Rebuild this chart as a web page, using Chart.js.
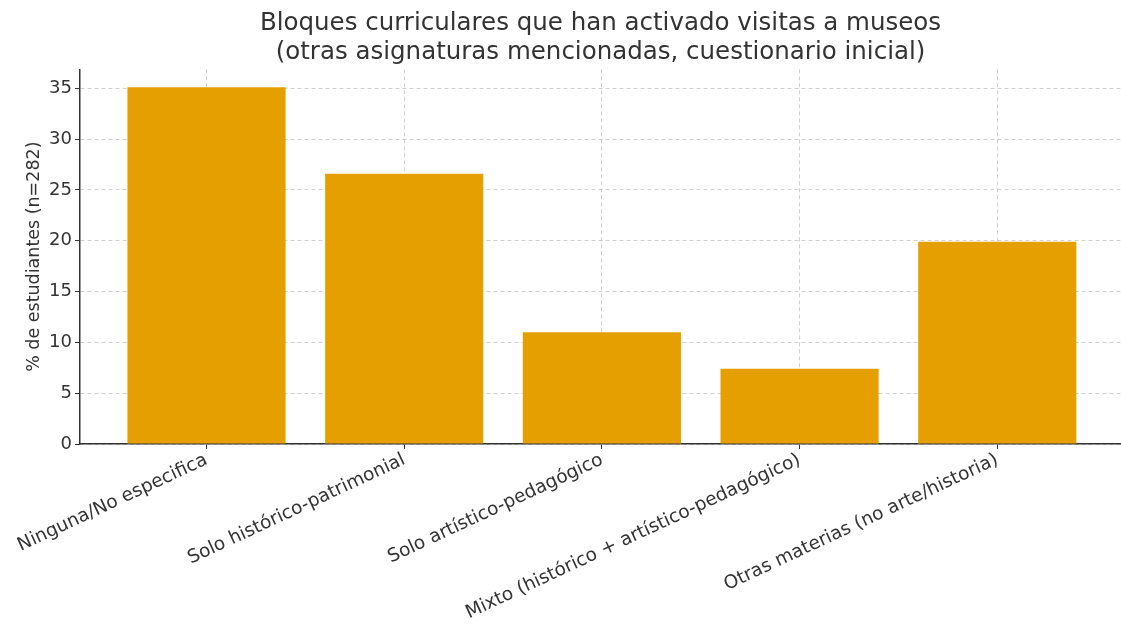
<!DOCTYPE html>
<html><head><meta charset="utf-8">
<script src="https://cdn.jsdelivr.net/npm/chart.js@4.4.0/dist/chart.umd.min.js"></script>
<style>html,body{margin:0;padding:0;background:#fff;overflow:hidden}#wrap{width:1121px;height:626px}</style>
</head><body><div id="wrap"><canvas id="c" width="1121" height="626"></canvas></div>
<script>
const categories = ["Ninguna/No especifica","Solo histórico-patrimonial","Solo artístico-pedagógico","Mixto (histórico + artístico-pedagógico)","Otras materias (no arte/historia)"];
const values = [35.1, 26.6, 11.0, 7.4, 19.9];
const yTicks = [0,5,10,15,20,25,30,35];
const titleLines = ["Bloques curriculares que han activado visitas a museos","(otras asignaturas mencionadas, cuestionario inicial)"];
const yTitle = "% de estudiantes (n=282)";

const FONT = "'DejaVu Sans', sans-serif";
const TXT = '#333333';
new Chart(document.getElementById('c'), {
  type: 'bar',
  data: { datasets: [{ data: values.map((v,i)=>({x:i,y:v})), backgroundColor:'#E69F00', barPercentage:0.8, categoryPercentage:1.0 }] },
  options: {
    responsive:false, animation:false,
    layout:{ padding:{ left:24, right:0, top:0, bottom:0 } },
    plugins:{ legend:{display:false}, tooltip:{enabled:false},
      title:{ display:true, fullSize:false, text:titleLines, color:TXT, font:{family:FONT,size:24.5,weight:'normal',lineHeight:1.15}, padding:{top:10,bottom:3} } },
    scales:{
      x:{ type:'linear', min:-0.64, max:4.626, z:1, offset:false,
        afterBuildTicks:(s)=>{ s.ticks = categories.map((_,i)=>({value:i})); },
        afterFit:(s)=>{ s.height = 182; },
        ticks:{ autoSkip:false, maxRotation:25, minRotation:25, color:TXT, font:{family:FONT,size:18.5}, padding:0,
          callback:(v)=>categories[v] },
        grid:{ offset:false, color:'rgba(176,176,176,0.6)', lineWidth:1, tickLength:5, tickColor:TXT },
        border:{ display:true, color:TXT, width:1.5, dash:[4,3] }
      },
      y:{ min:0, max:36.86,
        afterBuildTicks:(s)=>{ s.ticks = yTicks.map(v=>({value:v})); },
        afterFit:(s)=>{ s.width = 56; },
        ticks:{ color:TXT, font:{family:FONT,size:18}, padding:3 },
        grid:{ color:'rgba(176,176,176,0.6)', lineWidth:1, tickLength:5, tickColor:TXT },
        border:{ display:true, color:TXT, width:1.5, dash:[4,3] },
        title:{ display:true, text:yTitle, color:TXT, font:{family:FONT,size:17.5}, padding:{top:0,bottom:0} }
      }
    }
  }
});
</script></body></html>
